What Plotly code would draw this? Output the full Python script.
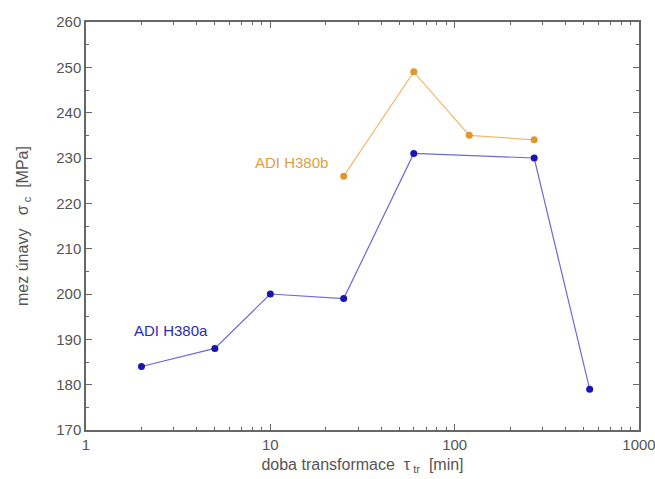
import plotly.graph_objects as go

x_a = [2, 5, 10, 25, 60, 270, 540]
y_a = [184, 188, 200, 199, 231, 230, 179]
x_b = [25, 60, 120, 270]
y_b = [226, 249, 235, 234]
label_a = "ADI H380a"
label_b = "ADI H380b"
y_ticks = [170, 180, 190, 200, 210, 220, 230, 240, 250, 260]
x_ticks = [1, 10, 100, 1000]
x_minor = [m * d for d in (1, 10, 100) for m in range(2, 10)]

FONT = "Liberation Sans"

fig = go.Figure()
fig.add_trace(go.Scatter(x=x_a, y=y_a, mode="lines+markers",
                         line=dict(color="#6a6ad8", width=1.2),
                         marker=dict(color="#1a14b4", size=7), showlegend=False))
fig.add_trace(go.Scatter(x=x_b, y=y_b, mode="lines+markers",
                         line=dict(color="#f0b870", width=1.2),
                         marker=dict(color="#e0962e", size=7), showlegend=False))

fig.add_annotation(x=0.46, y=192, xref="x", yref="y", text=label_a, showarrow=False,
                   font=dict(color="#2a2ab8", size=15, family=FONT))
fig.add_annotation(x=1.114, y=229, xref="x", yref="y", text=label_b, showarrow=False,
                   font=dict(color="#e0a040", size=15, family=FONT))

axis_common = dict(showline=True, linecolor="#666", linewidth=1.5, mirror="ticks",
                   ticks="inside", tickcolor="#666", ticklen=6, tickwidth=1,
                   showgrid=False, zeroline=False, automargin=False,
                   ticklabeloverflow="allow",
                   tickfont=dict(color="#555", size=15, family=FONT))

fig.update_xaxes(type="log", range=[0, 3], tickvals=x_ticks,
                 ticktext=[str(v) for v in x_ticks],
                 minor=dict(ticks="inside", ticklen=3, tickcolor="#666", showgrid=False,
                            tickmode="array", tickvals=x_minor),
                 title=dict(text="doba transformace  τ<sub> tr</sub>  [min]", standoff=7,
                            font=dict(color="#555", size=16, family=FONT)),
                 **axis_common)
fig.update_yaxes(range=[170, 260], tickvals=y_ticks,
                 minor=dict(ticks="inside", ticklen=3, tickcolor="#666", dtick=5, showgrid=False),
                 title=dict(text="mez únavy   σ<sub> c</sub>  [MPa]", standoff=24,
                            font=dict(color="#555", size=16, family=FONT)),
                 **axis_common)

fig.update_layout(width=655, height=479, margin=dict(l=86, r=16, t=22, b=49),
                  plot_bgcolor="white", paper_bgcolor="white")
fig.write_html("out.html")
